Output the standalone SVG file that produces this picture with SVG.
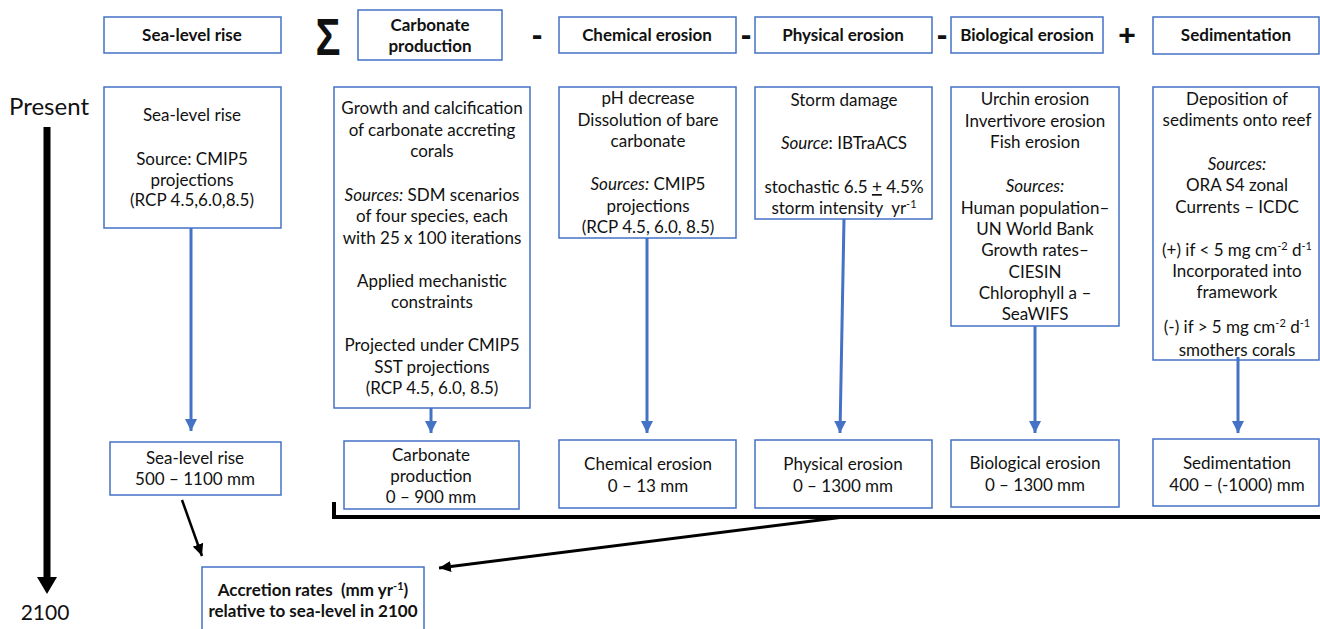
<svg xmlns="http://www.w3.org/2000/svg" width="1320" height="629" viewBox="0 0 1320 629">
<style>
  text { font-family: Lato, "Liberation Sans", sans-serif; fill: #111; }
  .t { font-size: 17px; text-anchor: middle; }
  .h { font-size: 17px; font-weight: bold; text-anchor: middle; }
  .box { fill: #fff; stroke: #4472C4; stroke-width: 1.5; }
  .blue { stroke: #4472C4; stroke-width: 3; fill: none; }
  .blk { stroke: #000; fill: none; }
  .op { font-family: "Liberation Sans", sans-serif; font-weight: bold; text-anchor: middle; }
  .i { font-style: italic; }
  .sup { font-size: 11px; }
</style>
<defs>
  <marker id="ab" markerUnits="userSpaceOnUse" markerWidth="14" markerHeight="12" refX="12" refY="6" orient="auto">
    <path d="M0,0 L12,6 L0,12 Z" fill="#4472C4"/>
  </marker>
  <marker id="ak" markerUnits="userSpaceOnUse" markerWidth="14" markerHeight="12" refX="12" refY="6" orient="auto">
    <path d="M0,0.5 L12,6 L0,11.5 Z" fill="#000"/>
  </marker>
</defs>

<!-- timeline -->
<g id="timeline">
  <text x="49" y="115" style="font-size:24px" text-anchor="middle">Present</text>
  <line x1="47" y1="127" x2="47" y2="580" stroke="#000" stroke-width="7"/>
  <path d="M37,577 L57,577 L47,594 Z" fill="#000"/>
  <text x="45" y="620" style="font-size:21px" text-anchor="middle">2100</text>
</g>

<!-- operators -->
<g id="operators">
  <text class="op" x="328" y="55" style="font-size:52px" textLength="25" lengthAdjust="spacingAndGlyphs">Σ</text>
  <text class="op" x="537" y="45" style="font-size:32px">-</text>
  <text class="op" x="746" y="45" style="font-size:32px">-</text>
  <text class="op" x="942" y="45" style="font-size:32px">-</text>
  <text class="op" x="1127" y="45" style="font-size:30px">+</text>
</g>

<!-- header row -->
<g id="h-sea"><rect class="box" x="104" y="17" width="177" height="36"/><text class="h" x="192" y="41">Sea-level rise</text></g>
<g id="h-carb"><rect class="box" x="358" y="10" width="144" height="50"/><text class="h" x="430" y="31">Carbonate</text><text class="h" x="430" y="52">production</text></g>
<g id="h-chem"><rect class="box" x="559" y="17" width="177" height="36"/><text class="h" x="647" y="41">Chemical erosion</text></g>
<g id="h-phys"><rect class="box" x="755" y="17" width="177" height="36"/><text class="h" x="843" y="41">Physical erosion</text></g>
<g id="h-bio"><rect class="box" x="951" y="17" width="152" height="36"/><text class="h" x="1027" y="41">Biological erosion</text></g>
<g id="h-sed"><rect class="box" x="1153" y="17" width="166" height="37"/><text class="h" x="1236" y="41">Sedimentation</text></g>

<!-- middle row -->
<g id="m-sea">
  <rect class="box" x="104" y="87" width="177" height="141"/>
  <text class="t" x="192" y="121">Sea-level rise</text>
  <text class="t" x="192" y="165">Source: CMIP5</text>
  <text class="t" x="192" y="186">projections</text>
  <text class="t" x="192" y="206">(RCP 4.5,6.0,8.5)</text>
</g>
<g id="m-carb">
  <rect class="box" x="334" y="87" width="196" height="321"/>
  <text class="t" x="432" y="114">Growth and calcification</text>
  <text class="t" x="432" y="136">of carbonate accreting</text>
  <text class="t" x="432" y="157">corals</text>
  <text class="t" x="432" y="201"><tspan class="i">Sources:</tspan> SDM scenarios</text>
  <text class="t" x="432" y="222">of four species, each</text>
  <text class="t" x="432" y="244">with 25 x 100 iterations</text>
  <text class="t" x="432" y="287">Applied mechanistic</text>
  <text class="t" x="432" y="308">constraints</text>
  <text class="t" x="432" y="351">Projected under CMIP5</text>
  <text class="t" x="432" y="373">SST projections</text>
  <text class="t" x="432" y="394">(RCP 4.5, 6.0, 8.5)</text>
</g>
<g id="m-chem">
  <rect class="box" x="559" y="87" width="177" height="151"/>
  <text class="t" x="648" y="104">pH decrease</text>
  <text class="t" x="648" y="126">Dissolution of bare</text>
  <text class="t" x="648" y="147">carbonate</text>
  <text class="t" x="648" y="190"><tspan class="i">Sources:</tspan> CMIP5</text>
  <text class="t" x="648" y="212">projections</text>
  <text class="t" x="648" y="233">(RCP 4.5, 6.0, 8.5)</text>
</g>
<g id="m-phys">
  <rect class="box" x="755" y="87" width="177" height="132"/>
  <text class="t" x="844" y="106">Storm damage</text>
  <text class="t" x="844" y="149"><tspan class="i">Source</tspan>: IBTraACS</text>
  <text class="t" x="844" y="193">stochastic 6.5 <tspan text-decoration="underline">+</tspan> 4.5%</text>
  <text class="t" x="844" y="214">storm intensity&#160; yr<tspan class="sup" dy="-6">-1</tspan></text>
</g>
<g id="m-bio">
  <rect class="box" x="951" y="87" width="168" height="239"/>
  <text class="t" x="1035" y="105">Urchin erosion</text>
  <text class="t" x="1035" y="127">Invertivore erosion</text>
  <text class="t" x="1035" y="148">Fish erosion</text>
  <text class="t" x="1035" y="192"><tspan class="i">Sources:</tspan></text>
  <text class="t" x="1035" y="214">Human population–</text>
  <text class="t" x="1035" y="235">UN World Bank</text>
  <text class="t" x="1035" y="256">Growth rates–</text>
  <text class="t" x="1035" y="278">CIESIN</text>
  <text class="t" x="1035" y="299">Chlorophyll a –</text>
  <text class="t" x="1035" y="320">SeaWIFS</text>
</g>
<g id="m-sed">
  <rect class="box" x="1153" y="87" width="166" height="273"/>
  <text class="t" x="1237" y="105">Deposition of</text>
  <text class="t" x="1237" y="126">sediments onto reef</text>
  <text class="t" x="1237" y="170"><tspan class="i">Sources:</tspan></text>
  <text class="t" x="1237" y="191">ORA S4 zonal</text>
  <text class="t" x="1237" y="213">Currents – ICDC</text>
  <text class="t" x="1237" y="256">(+) if &lt; 5 mg cm<tspan class="sup" dy="-6">-2</tspan><tspan dy="6"> d</tspan><tspan class="sup" dy="-6">-1</tspan></text>
  <text class="t" x="1237" y="277">Incorporated into</text>
  <text class="t" x="1237" y="298">framework</text>
  <text class="t" x="1237" y="333">(-) if &gt; 5 mg cm<tspan class="sup" dy="-6">-2</tspan><tspan dy="6"> d</tspan><tspan class="sup" dy="-6">-1</tspan></text>
  <text class="t" x="1237" y="356">smothers corals</text>
</g>

<!-- bottom row -->
<g id="b-sea"><rect class="box" x="110" y="442" width="171" height="53"/><text class="t" x="195" y="464">Sea-level rise</text><text class="t" x="195" y="485">500 – 1100 mm</text></g>
<g id="b-carb"><rect class="box" x="344" y="441" width="175" height="68"/><text class="t" x="431" y="461">Carbonate</text><text class="t" x="431" y="482">production</text><text class="t" x="431" y="503">0 – 900 mm</text></g>
<g id="b-chem"><rect class="box" x="559" y="440" width="177" height="68"/><text class="t" x="648" y="470">Chemical erosion</text><text class="t" x="648" y="492">0 – 13 mm</text></g>
<g id="b-phys"><rect class="box" x="755" y="440" width="177" height="68"/><text class="t" x="843" y="470">Physical erosion</text><text class="t" x="843" y="492">0 – 1300 mm</text></g>
<g id="b-bio"><rect class="box" x="951" y="440" width="168" height="67"/><text class="t" x="1035" y="469">Biological erosion</text><text class="t" x="1035" y="491">0 – 1300 mm</text></g>
<g id="b-sed"><rect class="box" x="1153" y="439" width="166" height="67"/><text class="t" x="1237" y="469">Sedimentation</text><text class="t" x="1237" y="491">400 – (-1000) mm</text></g>

<g id="accretion">
  <rect class="box" x="202" y="567" width="222" height="66"/>
  <text class="h" x="313" y="596">Accretion rates&#160; (mm yr<tspan class="sup" dy="-6">-1</tspan><tspan dy="6">)</tspan></text>
  <text class="h" x="313" y="617">relative to sea-level in 2100</text>
</g>

<!-- connectors -->
<g id="connectors">
  <line class="blue" x1="191" y1="228" x2="191" y2="431" marker-end="url(#ab)"/>
  <line class="blue" x1="431" y1="408" x2="431" y2="433" marker-end="url(#ab)"/>
  <line class="blue" x1="647" y1="238" x2="647" y2="433" marker-end="url(#ab)"/>
  <line class="blue" x1="844" y1="219" x2="840" y2="433" marker-end="url(#ab)"/>
  <line class="blue" x1="1035" y1="326" x2="1035" y2="433" marker-end="url(#ab)"/>
  <line class="blue" x1="1238" y1="357" x2="1238" y2="433" marker-end="url(#ab)"/>
  <path class="blk" d="M334,502 L334,517 L1322,517" stroke-width="4"/>
  <line class="blk" x1="844" y1="517" x2="439" y2="568" stroke-width="3" marker-end="url(#ak)"/>
  <line class="blk" x1="182" y1="500" x2="202" y2="556" stroke-width="2.5" marker-end="url(#ak)"/>
</g>
</svg>
